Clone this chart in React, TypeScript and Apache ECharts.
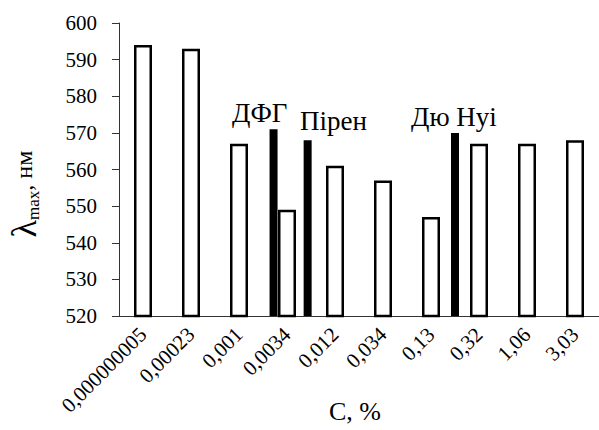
import React, { useEffect, useRef } from "react";
import * as echarts from "echarts";

const categories = ["0,000000005", "0,00023", "0,001", "0,0034", "0,012", "0,034", "0,13", "0,32", "1,06", "3,03"];
const lambdaValues = [594, 593, 567, 549, 561, 557, 547, 567, 567, 568];
// black reference markers: [category index, value, offset in band widths]
const markerCategory = [3, 3, 6];
const markerValues = [571, 568, 570];
const markerOffsets = [-0.28, 0.43, 0.5];
const markerNames = ["ДФГ", "Пірен", "Дю Нуі"];
const yTicks = { min: 520, max: 600, interval: 10 };

const FONT = "Liberation Serif";

export default function App() {
  const ref = useRef<HTMLDivElement>(null);
  useEffect(() => {
    if (!ref.current) return;
    const chart = echarts.init(ref.current, null, { renderer: "svg" });
    const markerData = markerCategory.map((c, i) => [c, markerValues[i], markerOffsets[i]]);
    const labelPos = [
      { x: 232, y: 112.5 },
      { x: 300, y: 121 },
      { x: 411, y: 117 },
    ];
    chart.setOption({
      animation: false,
      backgroundColor: "#fff",
      textStyle: { fontFamily: FONT, color: "#000" },
      grid: { left: 119, right: -12, top: 23, bottom: 114, containLabel: false },
      xAxis: {
        type: "category",
        data: categories,
        axisLine: { lineStyle: { color: "#333", width: 1 } },
        axisTick: { alignWithLabel: true, length: 5, lineStyle: { color: "#333" } },
        axisLabel: { interval: 0, rotate: 45, fontSize: 21, color: "#000", margin: 15, fontFamily: FONT },
        splitLine: { show: false },
      },
      yAxis: {
        type: "value",
        min: yTicks.min,
        max: yTicks.max,
        interval: yTicks.interval,
        axisLine: { show: true, lineStyle: { color: "#333", width: 1 } },
        axisTick: { show: true, length: 7, lineStyle: { color: "#333" } },
        axisLabel: { fontSize: 21, color: "#000", margin: 22, fontFamily: FONT },
        splitLine: { show: false },
      },
      series: [
        {
          type: "bar",
          data: lambdaValues,
          barWidth: 18,
          itemStyle: { color: "#fff", borderColor: "#000", borderWidth: 2.5 },
        },
        {
          type: "custom",
          data: markerData,
          encode: { x: 0, y: 1 },
          renderItem: (params: any, api: any) => {
            const idx = api.value(0);
            const v = api.value(1);
            const off = api.value(2);
            const top = api.coord([idx, v]);
            const base = api.coord([idx, yTicks.min]);
            const band = api.size([1, 0])[0];
            const cx = top[0] + off * band;
            return {
              type: "rect",
              shape: { x: cx - 4, y: top[1], width: 8, height: base[1] - top[1] },
              style: { fill: "#000" },
            };
          },
        },
      ],
      graphic: [
        ...markerNames.map((t, i) => ({
          type: "text",
          x: labelPos[i].x,
          y: labelPos[i].y,
          style: { text: t, fontFamily: FONT, fontSize: 27, fill: "#000", verticalAlign: "middle", align: "left" },
        })),
        {
          type: "text",
          x: 355,
          y: 411,
          style: { text: "C, %", fontFamily: FONT, fontSize: 26, fill: "#000", verticalAlign: "middle", align: "center" },
        },
        {
          type: "text",
          x: 24,
          y: 194,
          rotation: Math.PI / 2,
          style: {
            text: "{l|λ}{s|max}{n|, нм}",
            fill: "#000",
            align: "center",
            verticalAlign: "middle",
            rich: {
              l: { fontSize: 36, fontFamily: FONT, fill: "#000", color: "#000" },
              s: { fontSize: 17, fontFamily: FONT, fill: "#000", color: "#000", verticalAlign: "bottom", padding: [14, 0, 0, 0] },
              n: { fontSize: 24, fontFamily: FONT, fill: "#000", color: "#000" },
            },
          },
        },
      ],
    });
    return () => chart.dispose();
  }, []);
  return (
    <div
      ref={ref}
      style={{ position: "absolute", left: 0, top: 0, width: 599, height: 430, background: "#fff" }}
    />
  );
}
